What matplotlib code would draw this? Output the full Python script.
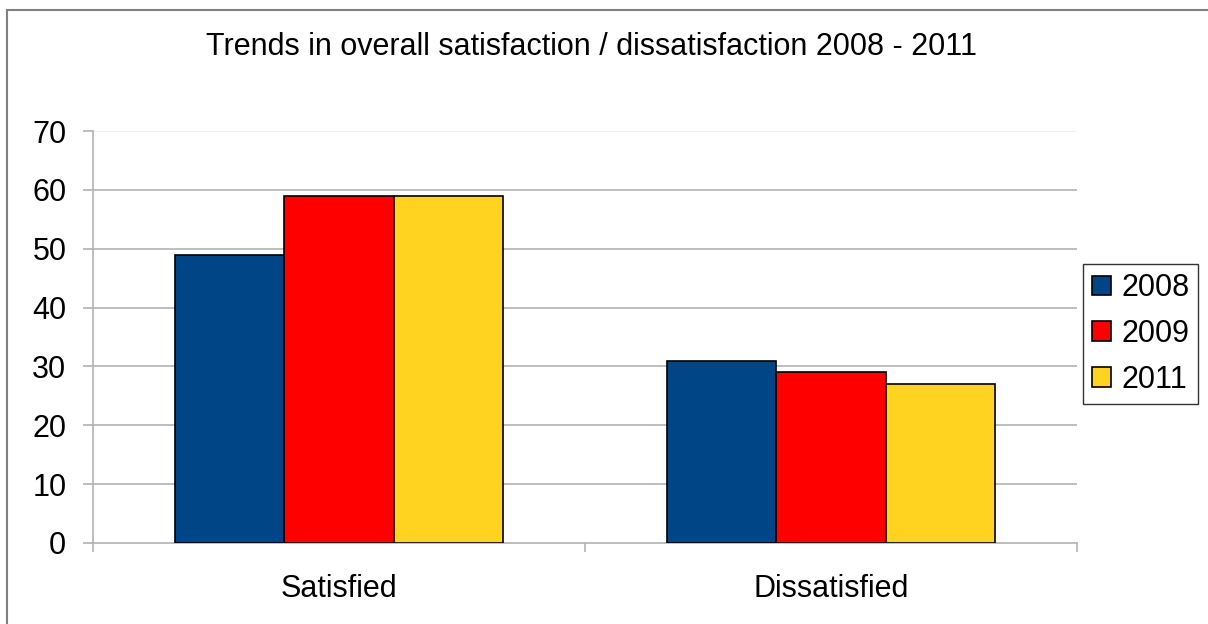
import numpy as np
import matplotlib
matplotlib.use('Agg')
from matplotlib import pyplot as plt
from matplotlib.patches import Rectangle

categories = ['Satisfied', 'Dissatisfied']
years = ['2008', '2009', '2011']
vals_2008 = [49, 31]
vals_2009 = [59, 29]
vals_2011 = [59, 27]
colors = ['#004586', '#ff0000', '#ffd320']
yticks = [0, 10, 20, 30, 40, 50, 60, 70]

plt.rcParams['font.family'] = ['Liberation Sans', 'DejaVu Sans']
W, H = 1208, 624
fig = plt.figure(figsize=(W / 100, H / 100), dpi=100)
ax = fig.add_axes([93 / W, 1 - 543 / H, 984 / W, 412 / H])

x = np.arange(len(categories))
bw = 0.222
series = [vals_2008, vals_2009, vals_2011]
for i, (yr, v) in enumerate(zip(years, series)):
    ax.bar(x + (i - 1) * bw, v, bw, color=colors[i], edgecolor='black',
           linewidth=1.2, label=yr, zorder=3)

grid = '#b3b3b3'
ax.set_xlim(-0.5, 1.5)
ax.set_ylim(0, 70)
ax.set_yticks(yticks)
for t in yticks[1:-1]:
    ax.axhline(t, color=grid, lw=1.2, zorder=1)
ax.axhline(70, color='#ececec', lw=1.2, zorder=1)

for s in ['top', 'right']:
    ax.spines[s].set_visible(False)
for s in ['left', 'bottom']:
    ax.spines[s].set_color(grid)
    ax.spines[s].set_linewidth(1.2)

ax.tick_params(axis='y', direction='out', length=7.2, width=1.2, color=grid,
               labelsize=22, pad=12)
ax.set_xticks(x)
ax.set_xticklabels(categories)
ax.set_xticks([-0.5, 0.5, 1.5], minor=True)
ax.tick_params(axis='x', which='major', length=0, labelsize=22, pad=22)
ax.tick_params(axis='x', which='minor', length=6.5, width=1.2, color=grid)

fig.text(592 / W, 1 - 47 / H, 'Trends in overall satisfaction / dissatisfaction 2008 - 2011',
         ha='center', va='center', fontsize=22)

leg = fig.legend(loc='upper left', bbox_to_anchor=(1083 / W, 1 - 264 / H),
                 bbox_transform=fig.transFigure, fontsize=22, frameon=True,
                 fancybox=False, handlelength=0.62, handleheight=0.62,
                 handletextpad=0.33, borderpad=0.3, labelspacing=0.52,
                 borderaxespad=0)
leg.get_frame().set_edgecolor('black')
leg.get_frame().set_linewidth(1.0)

fig.add_artist(Rectangle((7 / W, -0.1), 1.2, 1 - 10 / H + 0.1, transform=fig.transFigure,
                         fill=False, edgecolor='#808080', lw=1.5))

fig.savefig('out.png', dpi=100)
